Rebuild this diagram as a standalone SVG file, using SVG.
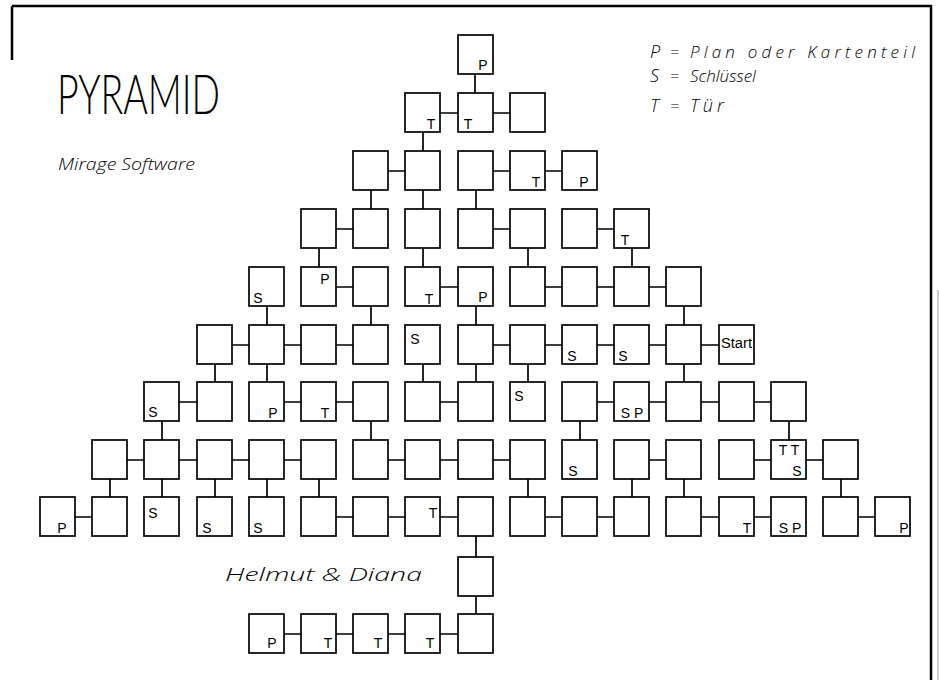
<svg xmlns="http://www.w3.org/2000/svg" width="939" height="680" viewBox="0 0 939 680">
<style>
.b{fill:#fff;stroke:#000;stroke-width:1.7}
.c{stroke:#000;stroke-width:1.7;fill:none}
.l{font-family:"Liberation Sans",Arial,sans-serif;font-size:14px;fill:#000;text-anchor:middle}
.h{font-family:"Open Sans","Liberation Sans",sans-serif;font-style:italic;font-weight:300;fill:#000}
.f{stroke:#000;stroke-width:2.5;fill:none}
</style>
<rect width="939" height="680" fill="#fff"/>
<g id="frame">
<path class="f" d="M12 6H931V680M12 6V60"/>
<path d="M938 290V680" stroke="#999" stroke-width="1" fill="none"/>
</g>
<g id="title">
<text x="57" y="114" font-family="Lato,'Liberation Sans',sans-serif" font-weight="300" font-size="56" textLength="163" lengthAdjust="spacingAndGlyphs">PYRAMID</text>
<text class="h" x="58" y="170" font-size="16" textLength="137" lengthAdjust="spacingAndGlyphs">Mirage Software</text>
</g>
<g id="legend">
<text class="h" x="650" y="58" font-size="18">P</text><text class="h" x="670" y="58" font-size="16">=</text><text class="h" x="690" y="58" font-size="17" textLength="225" lengthAdjust="spacing">Plan oder Kartenteil</text>
<text class="h" x="650" y="82" font-size="18">S</text><text class="h" x="670" y="82" font-size="16">=</text><text class="h" x="690" y="82" font-size="17">Schlüssel</text>
<text class="h" x="650" y="112" font-size="18">T</text><text class="h" x="670" y="112" font-size="16">=</text><text class="h" x="690" y="112" font-size="18" letter-spacing="4">Tür</text>
</g>
<text id="authors" class="h" x="225" y="581" font-size="18" textLength="197" lengthAdjust="spacingAndGlyphs">Helmut &amp; Diana</text>
<g id="connectors" class="c">
<path d="M475 74V93M423 132V151M371 190V209M423 190V209M476 190V209"/>
<path d="M319 248V267M423 248V267M528 248V267M632 248V267"/>
<path d="M267 306V325M371 306V325M476 306V325M684 306V325"/>
<path d="M215 364V382M267 364V382M423 364V382M476 364V382M528 364V382M684 364V382"/>
<path d="M162 421V440M371 421V440M580 421V440M789 421V440"/>
<path d="M110 479V497M162 479V497M215 479V497M267 479V497M319 479V497M528 479V497M632 479V497M684 479V497M841 479V497"/>
<path d="M476 536V557M476 596V614"/>
<path d="M440 113H458M493 113H510"/>
<path d="M388 171H405M493 171H510M545 171H562"/>
<path d="M336 229H353M493 229H510M597 229H614"/>
<path d="M336 287H353M440 287H458M545 287H562M597 287H614M649 287H666"/>
<path d="M232 345H249M284 345H301M336 345H353M493 345H510M545 345H562M597 345H614M649 345H666M701 345H719"/>
<path d="M179 402H197M284 402H301M336 402H353M440 402H458M597 402H614M649 402H666M701 402H719M754 402H771"/>
<path d="M127 460H144M179 460H197M232 460H249M284 460H301M388 460H405M440 460H458M493 460H510M649 460H666M754 460H771M806 460H823"/>
<path d="M75 517H92M336 517H353M388 517H405M440 517H458M545 517H562M597 517H614M701 517H719M754 517H771M858 517H875"/>
<path d="M284 634H301M336 634H353M388 634H405M440 634H458"/>
</g>
<g id="r0"><rect class="b" x="458" y="35" width="35" height="39"/><text class="l" x="483" y="70">P</text></g>
<g id="r1">
<g id="r1c7"><rect class="b" x="405" y="93" width="35" height="39"/><text class="l" x="431" y="129">T</text></g>
<g id="r1c8"><rect class="b" x="458" y="93" width="35" height="39"/><text class="l" x="468" y="129">T</text></g>
<g id="r1c9"><rect class="b" x="510" y="93" width="35" height="39"/></g>
</g>
<g id="r2">
<g id="r2c6"><rect class="b" x="353" y="151" width="35" height="39"/></g>
<g id="r2c7"><rect class="b" x="405" y="151" width="35" height="39"/></g>
<g id="r2c8"><rect class="b" x="458" y="151" width="35" height="39"/></g>
<g id="r2c9"><rect class="b" x="510" y="151" width="35" height="39"/><text class="l" x="536" y="187">T</text></g>
<g id="r2c10"><rect class="b" x="562" y="151" width="35" height="39"/><text class="l" x="584" y="187">P</text></g>
</g>
<g id="r3">
<g id="r3c5"><rect class="b" x="301" y="209" width="35" height="39"/></g>
<g id="r3c6"><rect class="b" x="353" y="209" width="35" height="39"/></g>
<g id="r3c7"><rect class="b" x="405" y="209" width="35" height="39"/></g>
<g id="r3c8"><rect class="b" x="458" y="209" width="35" height="39"/></g>
<g id="r3c9"><rect class="b" x="510" y="209" width="35" height="39"/></g>
<g id="r3c10"><rect class="b" x="562" y="209" width="35" height="39"/></g>
<g id="r3c11"><rect class="b" x="614" y="209" width="35" height="39"/><text class="l" x="625" y="245">T</text></g>
</g>
<g id="r4">
<g id="r4c4"><rect class="b" x="249" y="267" width="35" height="39"/><text class="l" x="258" y="303">S</text></g>
<g id="r4c5"><rect class="b" x="301" y="267" width="35" height="39"/><text class="l" x="325" y="284">P</text></g>
<g id="r4c6"><rect class="b" x="353" y="267" width="35" height="39"/></g>
<g id="r4c7"><rect class="b" x="405" y="267" width="35" height="39"/><text class="l" x="429" y="304">T</text></g>
<g id="r4c8"><rect class="b" x="458" y="267" width="35" height="39"/><text class="l" x="483" y="302">P</text></g>
<g id="r4c9"><rect class="b" x="510" y="267" width="35" height="39"/></g>
<g id="r4c10"><rect class="b" x="562" y="267" width="35" height="39"/></g>
<g id="r4c11"><rect class="b" x="614" y="267" width="35" height="39"/></g>
<g id="r4c12"><rect class="b" x="666" y="267" width="35" height="39"/></g>
</g>
<g id="r5">
<g id="r5c3"><rect class="b" x="197" y="325" width="35" height="39"/></g>
<g id="r5c4"><rect class="b" x="249" y="325" width="35" height="39"/></g>
<g id="r5c5"><rect class="b" x="301" y="325" width="35" height="39"/></g>
<g id="r5c6"><rect class="b" x="353" y="325" width="35" height="39"/></g>
<g id="r5c7"><rect class="b" x="405" y="325" width="35" height="39"/><text class="l" x="415" y="344">S</text></g>
<g id="r5c8"><rect class="b" x="458" y="325" width="35" height="39"/></g>
<g id="r5c9"><rect class="b" x="510" y="325" width="35" height="39"/></g>
<g id="r5c10"><rect class="b" x="562" y="325" width="35" height="39"/><text class="l" x="572" y="361">S</text></g>
<g id="r5c11"><rect class="b" x="614" y="325" width="35" height="39"/><text class="l" x="623" y="361">S</text></g>
<g id="r5c12"><rect class="b" x="666" y="325" width="35" height="39"/></g>
<g id="r5c13"><rect class="b" x="719" y="325" width="35" height="39"/><text class="l" x="721" y="348" font-size="12" style="text-anchor:start" textLength="31" lengthAdjust="spacingAndGlyphs">Start</text></g>
</g>
<g id="r6">
<g id="r6c2"><rect class="b" x="144" y="382" width="35" height="39"/><text class="l" x="153" y="417">S</text></g>
<g id="r6c3"><rect class="b" x="197" y="382" width="35" height="39"/></g>
<g id="r6c4"><rect class="b" x="249" y="382" width="35" height="39"/><text class="l" x="273" y="418">P</text></g>
<g id="r6c5"><rect class="b" x="301" y="382" width="35" height="39"/><text class="l" x="325" y="418">T</text></g>
<g id="r6c6"><rect class="b" x="353" y="382" width="35" height="39"/></g>
<g id="r6c7"><rect class="b" x="405" y="382" width="35" height="39"/></g>
<g id="r6c8"><rect class="b" x="458" y="382" width="35" height="39"/></g>
<g id="r6c9"><rect class="b" x="510" y="382" width="35" height="39"/><text class="l" x="519" y="401">S</text></g>
<g id="r6c10"><rect class="b" x="562" y="382" width="35" height="39"/></g>
<g id="r6c11"><rect class="b" x="614" y="382" width="35" height="39"/><text class="l" x="632" y="418">S P</text></g>
<g id="r6c12"><rect class="b" x="666" y="382" width="35" height="39"/></g>
<g id="r6c13"><rect class="b" x="719" y="382" width="35" height="39"/></g>
<g id="r6c14"><rect class="b" x="771" y="382" width="35" height="39"/></g>
</g>
<g id="r7">
<g id="r7c1"><rect class="b" x="92" y="440" width="35" height="39"/></g>
<g id="r7c2"><rect class="b" x="144" y="440" width="35" height="39"/></g>
<g id="r7c3"><rect class="b" x="197" y="440" width="35" height="39"/></g>
<g id="r7c4"><rect class="b" x="249" y="440" width="35" height="39"/></g>
<g id="r7c5"><rect class="b" x="301" y="440" width="35" height="39"/></g>
<g id="r7c6"><rect class="b" x="353" y="440" width="35" height="39"/></g>
<g id="r7c7"><rect class="b" x="405" y="440" width="35" height="39"/></g>
<g id="r7c8"><rect class="b" x="458" y="440" width="35" height="39"/></g>
<g id="r7c9"><rect class="b" x="510" y="440" width="35" height="39"/></g>
<g id="r7c10"><rect class="b" x="562" y="440" width="35" height="39"/><text class="l" x="573" y="476">S</text></g>
<g id="r7c11"><rect class="b" x="614" y="440" width="35" height="39"/></g>
<g id="r7c12"><rect class="b" x="666" y="440" width="35" height="39"/></g>
<g id="r7c13"><rect class="b" x="719" y="440" width="35" height="39"/></g>
<g id="r7c14"><rect class="b" x="771" y="440" width="35" height="39"/><text class="l" x="789" y="455" font-size="11">T T</text><text class="l" x="797" y="476">S</text></g>
<g id="r7c15"><rect class="b" x="823" y="440" width="35" height="39"/></g>
</g>
<g id="r8">
<g id="r8c0"><rect class="b" x="40" y="497" width="35" height="39"/><text class="l" x="62" y="533">P</text></g>
<g id="r8c1"><rect class="b" x="92" y="497" width="35" height="39"/></g>
<g id="r8c2"><rect class="b" x="144" y="497" width="35" height="39"/><text class="l" x="153" y="518">S</text></g>
<g id="r8c3"><rect class="b" x="197" y="497" width="35" height="39"/><text class="l" x="207" y="533">S</text></g>
<g id="r8c4"><rect class="b" x="249" y="497" width="35" height="39"/><text class="l" x="258" y="533">S</text></g>
<g id="r8c5"><rect class="b" x="301" y="497" width="35" height="39"/></g>
<g id="r8c6"><rect class="b" x="353" y="497" width="35" height="39"/></g>
<g id="r8c7"><rect class="b" x="405" y="497" width="35" height="39"/><text class="l" x="433" y="518">T</text></g>
<g id="r8c8"><rect class="b" x="458" y="497" width="35" height="39"/></g>
<g id="r8c9"><rect class="b" x="510" y="497" width="35" height="39"/></g>
<g id="r8c10"><rect class="b" x="562" y="497" width="35" height="39"/></g>
<g id="r8c11"><rect class="b" x="614" y="497" width="35" height="39"/></g>
<g id="r8c12"><rect class="b" x="666" y="497" width="35" height="39"/></g>
<g id="r8c13"><rect class="b" x="719" y="497" width="35" height="39"/><text class="l" x="747" y="533">T</text></g>
<g id="r8c14"><rect class="b" x="771" y="497" width="35" height="39"/><text class="l" x="790" y="533">S P</text></g>
<g id="r8c15"><rect class="b" x="823" y="497" width="35" height="39"/></g>
<g id="r8c16"><rect class="b" x="875" y="497" width="35" height="39"/><text class="l" x="904" y="533">P</text></g>
</g>
<g id="r9"><rect class="b" x="458" y="557" width="35" height="39"/></g>
<g id="r10">
<g id="r10c4"><rect class="b" x="249" y="614" width="35" height="39"/><text class="l" x="272" y="648">P</text></g>
<g id="r10c5"><rect class="b" x="301" y="614" width="35" height="39"/><text class="l" x="328" y="648">T</text></g>
<g id="r10c6"><rect class="b" x="353" y="614" width="35" height="39"/><text class="l" x="378" y="648">T</text></g>
<g id="r10c7"><rect class="b" x="405" y="614" width="35" height="39"/><text class="l" x="430" y="648">T</text></g>
<g id="r10c8"><rect class="b" x="458" y="614" width="35" height="39"/></g>
</g>
</svg>
